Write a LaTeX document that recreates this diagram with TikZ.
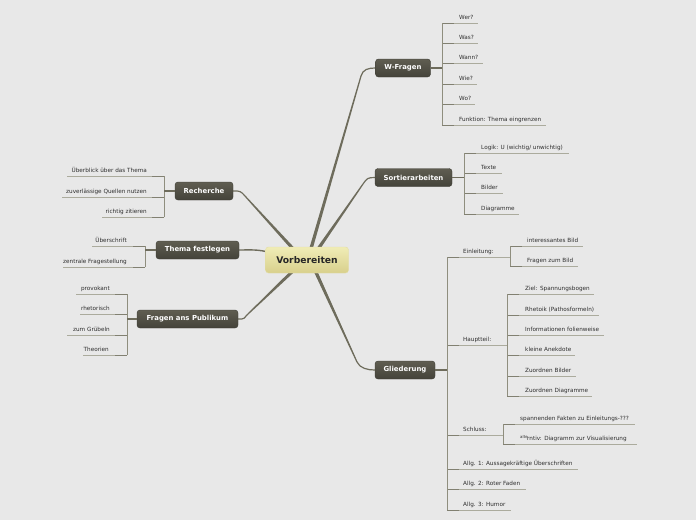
\documentclass[tikz,border=0pt]{standalone}
\usepackage{fontspec}
\setmainfont{DejaVu Sans}
\usetikzlibrary{calc,backgrounds}
\definecolor{bgc}{HTML}{E8E8E8}
\definecolor{conncol}{HTML}{6E6C5C}
\definecolor{spinecol}{HTML}{8F8E7E}
\definecolor{ulinecol}{HTML}{ABAB9D}
\definecolor{leaftext}{HTML}{2E2E2E}
\definecolor{roottop}{HTML}{F0ECB6}
\definecolor{rootbot}{HTML}{D8D08C}
\definecolor{rootdraw}{HTML}{E2DDA4}
\definecolor{topictop}{HTML}{5F5D51}
\definecolor{topicbot}{HTML}{44433A}
\definecolor{topicdraw}{HTML}{3C3B33}
\tikzset{
  root/.style={rounded corners=3pt, top color=roottop, bottom color=rootbot, draw=rootdraw, line width=0.4pt,
    font=\fontsize{9.2}{10}\selectfont\bfseries, text=black!85, minimum width=83pt, minimum height=26pt, inner sep=0pt},
  topic/.style={rounded corners=3pt, top color=topictop, bottom color=topicbot, draw=topicdraw, line width=0.4pt,
    font=\fontsize{6.9}{8}\selectfont\bfseries, text=white, minimum height=18pt, inner sep=0pt},
  leaf/.style={font=\fontsize{5.7}{6.5}\selectfont, text=leaftext, inner sep=0pt},
  uline/.style={draw=ulinecol, line width=0.8pt},
  ujoin/.style={draw=spinecol!90!black, line width=0.9pt},
  spine/.style={draw=spinecol, line width=0.9pt},
  tline/.style={draw=conncol, line width=1.3pt},
}
\newcommand\rleaf[6]{%
  \coordinate (#1s) at (#2,#3); \coordinate (#1e) at (#5,#3);
  \node[leaf,anchor=base west] (#1) at (#4,#3-4) {#6};
  \draw[uline] (#1s) -- (#1e);
  \draw[ujoin] (#1s) -- ($(#1s)+(12,0)$);}
\newcommand\lleaf[6]{%
  \coordinate (#1s) at (#2,#3); \coordinate (#1e) at (#5,#3);
  \node[leaf,anchor=base east] (#1) at (#4,#3-4) {#6};
  \draw[uline] (#1s) -- (#1e);
  \draw[ujoin] (#1s) -- ($(#1s)+(-12,0)$);}
\newcommand\mconn[4]{%
  \fill[conncol] ($#1!1.7pt!90:#2$) -- ($#2!0.6pt!-90:#1$) -- ($#2!0.6pt!90:#1$) -- ($#1!1.7pt!-90:#2$) -- cycle;
  \draw[conncol, line width=1.2pt] #2 .. controls ($#2!-7pt!#1$) and ($#3+(#4*7,0)$) .. #3;}
\begin{document}
\begin{tikzpicture}[x=1pt,y=-1pt]
\useasboundingbox (0,0) rectangle (696,520);
\begin{scope}[on background layer]
\fill[bgc] (0,0) rectangle (696,520);
\end{scope}

% root and topics
\node[root] (root) at (307,260) {Vorbereiten};
\node[topic, minimum width=55pt] (wf) at (403,68) {W-Fragen};
\node[topic, minimum width=77pt] (so) at (413.5,177.5) {Sortierarbeiten};
\node[topic, minimum width=60pt] (gl) at (405,370) {Gliederung};
\node[topic, minimum width=58pt] (re) at (204,191) {Recherche};
\node[topic, minimum width=83pt] (tf) at (197.5,250) {Thema festlegen};
\node[topic, minimum width=101pt] (fp) at (187.5,319) {Fragen ans Publikum};

% main connectors
\begin{scope}[on background layer]
\mconn{(310,252)}{(361,76)}{(wf.west)}{-1}
\mconn{(316,252)}{(363,184)}{(so.west)}{-1}
\mconn{(314,268)}{(357,362)}{(gl.west)}{-1}
\mconn{(296,252)}{(245,196)}{(re.east)}{1}
\mconn{(296,268)}{(248,314)}{(fp.east)}{1}
\draw[conncol, line width=1.4pt] (272,253) .. controls (258,249) and (250,250) .. (tf.east);
\end{scope}

% W-Fragen
\rleaf{w1}{442}{23}{459}{478}{Wer?}
\rleaf{w2}{442}{43}{459}{478}{Was?}
\rleaf{w3}{442}{63}{459}{483}{Wann?}
\rleaf{w4}{442}{84}{459}{477}{Wie?}
\rleaf{w5}{442}{104}{459}{475}{Wo?}
\rleaf{w6}{442}{125}{459}{546}{Funktion: Thema eingrenzen}
\draw[spine] (w1s) -- (w6s);
\draw[tline] (wf.east) -- (wf.east -| w1s);

% Sortierarbeiten
\rleaf{s1}{464}{153}{481}{569}{Logik: U (wichtig/ unwichtig)}
\rleaf{s2}{464}{173}{481}{502}{Texte}
\rleaf{s3}{464}{193}{481}{503}{Bilder}
\rleaf{s4}{464}{214}{481}{519}{Diagramme}
\draw[spine] (s1s) -- (s4s);
\draw[tline] (so.east) -- (so.east -| s1s);

% Gliederung
\rleaf{g1}{447}{257}{463}{510}{Einleitung:}
\rleaf{e1}{510}{246}{527}{583}{interessantes Bild}
\rleaf{e2}{510}{266}{527}{578}{Fragen zum Bild}
\draw[spine] (e1s) -- (e2s);
\rleaf{g2}{447}{345}{463}{507}{Hauptteil:}
\rleaf{h1}{507}{294}{525}{594}{Ziel: Spannungsbogen}
\rleaf{h2}{507}{315}{525}{599}{Rhetoik (Pathosformeln)}
\rleaf{h3}{507}{335}{525}{604}{Informationen folienweise}
\rleaf{h4}{507}{355}{525}{575}{kleine Anekdote}
\rleaf{h5}{507}{376}{525}{576}{Zuordnen Bilder}
\rleaf{h6}{507}{396}{525}{592}{Zuordnen Diagramme}
\draw[spine] (h1s) -- (h6s);
\rleaf{g3}{447}{435}{463}{503}{Schluss:}
\rleaf{c1}{503}{424}{520}{635}{spannenden Fakten zu Einleitungs-???}
\rleaf{c2}{503}{444}{520}{637}{\raisebox{1.2pt}{\fontsize{4}{4}\selectfont alte}\hspace{-0.6pt}rntiv: Diagramm zur Visualisierung}
\draw[spine] (c1s) -- (c2s);
\rleaf{g4}{447}{469}{463}{578}{Allg. 1: Aussagekräftige Überschriften}
\rleaf{g5}{447}{489}{463}{526}{Allg. 2: Roter Faden}
\rleaf{g6}{447}{510}{463}{511}{Allg. 3: Humor}
\draw[spine] (g1s) -- (g6s);
\draw[tline] (gl.east) -- (gl.east -| g1s);

% Recherche
\lleaf{r1}{164}{176}{147}{67}{Überblick über das Thema}
\lleaf{r2}{164}{197}{147}{62}{zuverlässige Quellen nutzen}
\lleaf{r3}{164}{217}{147}{102}{richtig zitieren}
\draw[spine] (r1s) -- (r3s);
\draw[tline] (re.west) -- (re.west -| r1s);

% Thema festlegen
\lleaf{t1}{145}{246}{127}{92}{Überschrift}
\lleaf{t2}{145}{267}{127}{63}{zentrale Fragestellung}
\draw[spine] (t1s) -- (t2s);
\draw[tline] (tf.west) -- (tf.west -| t1s);

% Fragen ans Publikum
\lleaf{f1}{127}{294}{110}{76}{provokant}
\lleaf{f2}{127}{314}{110}{80}{rhetorisch}
\lleaf{f3}{127}{335}{110}{67}{zum Grübeln}
\lleaf{f4}{127}{355}{109}{83}{Theorien}
\draw[spine] (f1s) -- (f4s);
\draw[tline] (fp.west) -- (fp.west -| f1s);
\end{tikzpicture}
\end{document}
